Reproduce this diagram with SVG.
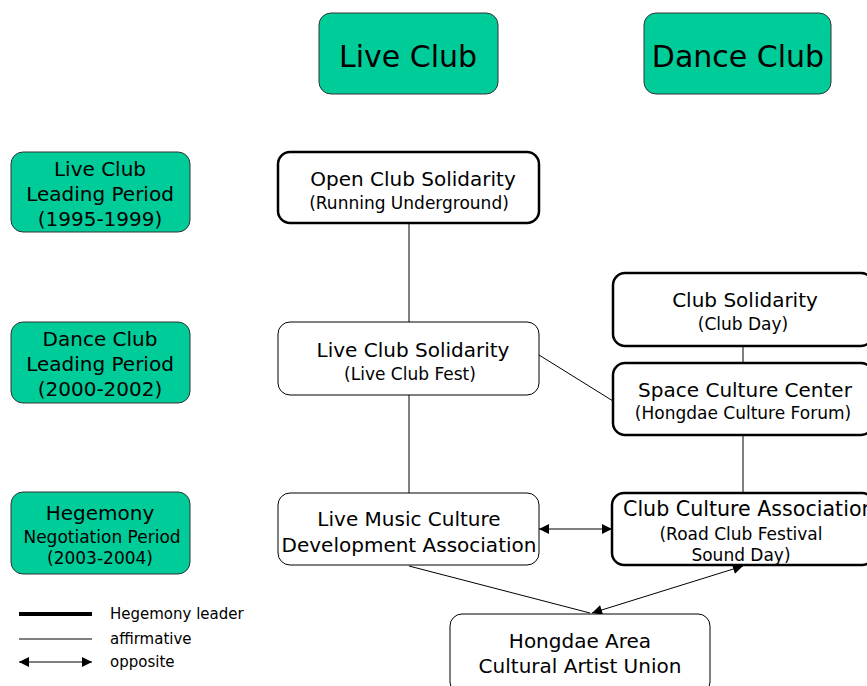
<svg xmlns="http://www.w3.org/2000/svg" width="867" height="686" viewBox="0 0 867 686">
<defs>
<style>
text{font-family:"DejaVu Sans","Liberation Sans",sans-serif;fill:#000;text-anchor:middle}
.g{fill:#00CC99;stroke:#333;stroke-width:1}
.n{fill:#fff;stroke:#000;stroke-width:1}
.b{fill:#fff;stroke:#000;stroke-width:2.5}
.big{font-size:30px}
.m{font-size:20px}
.s{font-size:17px}
.c{stroke:#000;stroke-width:1;fill:none}
</style>
<marker id="ah" viewBox="0 0 10 10" refX="10" refY="5" markerWidth="12" markerHeight="10" markerUnits="userSpaceOnUse" orient="auto-start-reverse">
<path d="M0,0 L10,5 L0,10 z" fill="#000"/>
</marker>
</defs>
<rect width="867" height="686" fill="#fff"/>
<g id="connectors">
<line class="c" x1="409" y1="223" x2="409" y2="322"/>
<line class="c" x1="409" y1="395" x2="409" y2="493"/>
<line class="c" x1="743" y1="346" x2="743" y2="363"/>
<line class="c" x1="743" y1="435" x2="743" y2="493"/>
<line class="c" x1="539" y1="355" x2="613" y2="401"/>
<line class="c" x1="539" y1="529" x2="612" y2="529" marker-start="url(#ah)" marker-end="url(#ah)"/>
<line class="c" x1="409" y1="566" x2="590" y2="613"/>
<line class="c" x1="592" y1="613" x2="743" y2="566" marker-start="url(#ah)" marker-end="url(#ah)"/>
</g>
<g id="live-club"><rect class="g" x="319" y="13" width="179" height="81" rx="12"/><text class="big" x="408" y="67">Live Club</text></g>
<g id="dance-club"><rect class="g" x="644" y="13" width="187" height="81" rx="12"/><text class="big" x="738" y="67">Dance Club</text></g>
<g id="period1"><rect class="g" x="11" y="152" width="179" height="80" rx="12"/><text class="m" x="100" y="176">Live Club</text><text class="m" x="100" y="201">Leading Period</text><text class="m" x="100" y="226">(1995-1999)</text></g>
<g id="period2"><rect class="g" x="11" y="322" width="179" height="81" rx="12"/><text class="m" x="100" y="346">Dance Club</text><text class="m" x="100" y="371">Leading Period</text><text class="m" x="100" y="396">(2000-2002)</text></g>
<g id="period3"><rect class="g" x="11" y="492" width="179" height="82" rx="12"/><text class="m" x="100" y="520">Hegemony</text><text class="s" x="102" y="543">Negotiation Period</text><text class="s" x="100" y="564">(2003-2004)</text></g>
<g id="open-club"><rect class="b" x="278" y="152" width="261" height="71" rx="12"/><text class="m" x="413" y="186">Open Club Solidarity</text><text class="s" x="409" y="209">(Running Underground)</text></g>
<g id="live-club-solidarity"><rect class="n" x="278" y="322" width="261" height="73" rx="12"/><text class="m" x="413" y="357">Live Club Solidarity</text><text class="s" x="410" y="380">(Live Club Fest)</text></g>
<g id="club-solidarity"><rect class="b" x="613" y="273" width="260" height="73" rx="12"/><text class="m" x="745" y="307">Club Solidarity</text><text class="s" x="743" y="330">(Club Day)</text></g>
<g id="space-culture"><rect class="b" x="613" y="363" width="260" height="72" rx="12"/><text class="m" x="745" y="397">Space Culture Center</text><text class="s" x="743" y="419">(Hongdae Culture Forum)</text></g>
<g id="live-music"><rect class="n" x="278" y="493" width="261" height="72" rx="12"/><text class="m" x="409" y="526">Live Music Culture</text><text class="m" x="409" y="552">Development Association</text></g>
<g id="club-culture"><rect class="b" x="612" y="493" width="262" height="72" rx="12"/><text x="623" y="516" style="font-size:20.6px;text-anchor:start">Club Culture Association</text><text class="s" x="741" y="540">(Road Club Festival</text><text class="s" x="741" y="561">Sound Day)</text></g>
<g id="hongdae"><rect class="n" x="450" y="614" width="260" height="80" rx="12"/><text class="m" x="580" y="648">Hongdae Area</text><text class="m" x="580" y="673">Cultural Artist Union</text></g>
<g id="legend">
<line x1="19" y1="614" x2="92" y2="614" stroke="#000" stroke-width="4"/>
<line x1="19" y1="639" x2="92" y2="639" stroke="#000" stroke-width="1"/>
<line class="c" x1="19" y1="662" x2="92" y2="662" marker-start="url(#ah)" marker-end="url(#ah)"/>
<text x="110" y="619" style="font-size:15px;text-anchor:start">Hegemony leader</text>
<text x="110" y="644" style="font-size:15px;text-anchor:start">affirmative</text>
<text x="110" y="667" style="font-size:15px;text-anchor:start">opposite</text>
</g>
</svg>
